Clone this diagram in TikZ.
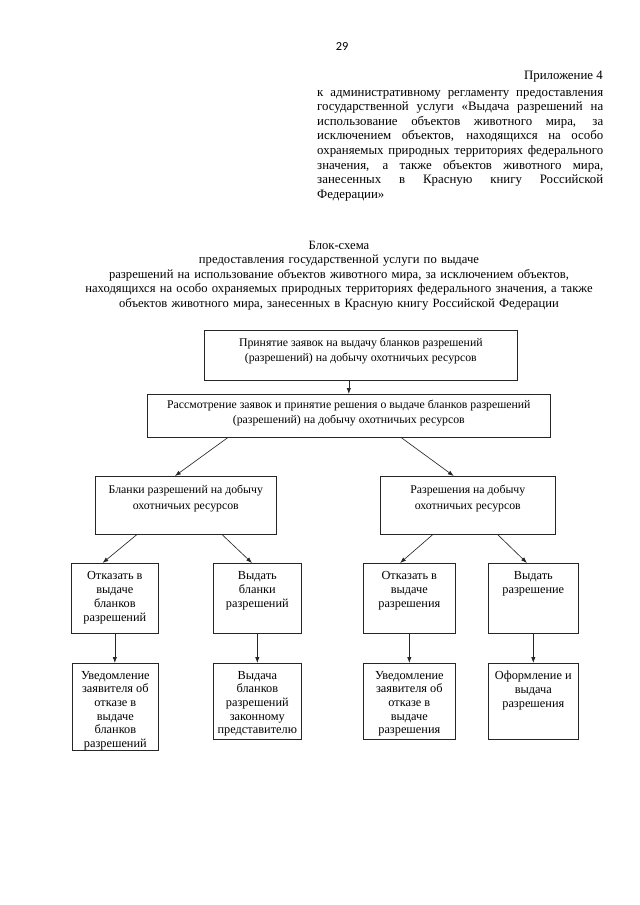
\documentclass[tikz,border=0pt]{standalone}
\usepackage{fontspec}
\setmainfont{Liberation Serif}
\newfontfamily\pagenumfont{Carlito}
\usepackage{tikz}
\usetikzlibrary{calc}
\usetikzlibrary{arrows.meta}

\newlength{\px}
\setlength{\px}{0.328125mm}
% text of a block: width, height, font size, line spacing (px), contents
\newcommand{\boxtxt}[5]{\parbox[t][#2\px][t]{#1\px}{\centering\fontsize{#3}{#4\px}\selectfont\vspace*{8\px}#5}}
% one justified line of the header
\newcommand{\jline}[1]{\makebox[286\px][s]{\spaceskip=0.25em plus 1fill\relax #1}\\}

\tikzset{
  blk/.style={draw=black!85, line width=0.6pt, inner sep=0pt, anchor=north west},
  arr/.style={-{Latex[length=5.5pt,width=4pt]}, line width=0.6pt, draw=black!85}
}

\begin{document}
\begin{tikzpicture}[x=\px, y=-\px]
        \useasboundingbox (0,0) rectangle (640,905);

        \node[font=\pagenumfont\fontsize{11.5}{13}\selectfont] (pnum) at (342,46) {29};
        \node[anchor=base east, inner sep=0pt, font=\fontsize{12}{13.8}\selectfont] (pril) at (603,79) {Приложение 4};
        \node[anchor=base west, inner sep=0pt, text width=286\px, align=left,
              font=\fontsize{12}{14.6\px}\selectfont] (reglam) at (317,96) {%
          \jline{к административному регламенту предоставления}
          \jline{государственной услуги «Выдача разрешений на}
          \jline{использование объектов животного мира, за}
          \jline{исключением объектов, находящихся на особо}
          \jline{охраняемых природных территориях федерального}
          \jline{значения, а также объектов животного мира,}
          \jline{занесенных в Красную книгу Российской}
          Федерации»};

        \node[anchor=base, inner sep=0pt, text width=540\px, align=center,
              font=\fontsize{11.8}{14.6\px}\selectfont] (title) at (339,249) {%
          Блок-схема\\
          предоставления государственной услуги по выдаче\\
          разрешений на использование объектов животного мира, за исключением объектов,\\
          находящихся на особо охраняемых природных территориях федерального значения, а также\\
          объектов животного мира, занесенных в Красную книгу Российской Федерации};

        % blocks
        \node[blk] (zayav) at (204,330) {\boxtxt{313}{50}{11}{15}{Принятие заявок на выдачу бланков разрешений\\(разрешений) на добычу охотничьих ресурсов}};
        \node[blk] (rass) at (147,394) {\boxtxt{403}{43}{11}{15}{\vspace*{-2\px}Рассмотрение заявок и принятие решения о выдаче бланков разрешений\\(разрешений) на добычу охотничьих ресурсов}};
        \node[blk] (blank) at (95,476) {\boxtxt{181}{58}{11}{15.5}{\vspace*{1\px}Бланки разрешений на добычу\\охотничьих ресурсов}};
        \node[blk] (razr) at (380,476) {\boxtxt{175}{58}{11}{15.5}{\vspace*{1\px}Разрешения на добычу\\охотничьих ресурсов}};

        \node[blk] (otkblank) at (71,563) {\boxtxt{87}{70}{11.5}{14}{Отказать в\\выдаче\\бланков\\разрешений}};
        \node[blk] (vydblank) at (213,563) {\boxtxt{88}{70}{11.5}{14}{Выдать\\бланки\\разрешений}};
        \node[blk] (otkrazr) at (363,563) {\boxtxt{92}{70}{11.5}{14}{Отказать в\\выдаче\\разрешения}};
        \node[blk] (vydrazr) at (488,563) {\boxtxt{90}{70}{11.5}{14}{Выдать\\разрешение}};

        \node[blk] (uvblank) at (72,663) {\boxtxt{86}{87}{11.5}{13.6}{Уведомление\\заявителя об\\отказе в\\выдаче\\бланков\\разрешений}};
        \node[blk] (predst) at (213,663) {\boxtxt{88}{76}{11.5}{13.6}{Выдача\\бланков\\разрешений\\законному\\представителю}};
        \node[blk] (uvrazr) at (363,663) {\boxtxt{92}{76}{11.5}{13.6}{Уведомление\\заявителя об\\отказе в\\выдаче\\разрешения}};
        \node[blk] (oform) at (488,663) {\boxtxt{90}{76}{11.5}{13.6}{Оформление и\\выдача\\разрешения}};

        % connectors
        \draw[arr] (zayav.south -| rass.north) -- (rass.north);
        \draw[arr] ($(rass.south west)!.2!(rass.south east)$) -- ($(blank.north west)!.44!(blank.north east)$);
        \draw[arr] ($(rass.south west)!.63!(rass.south east)$) -- ($(razr.north west)!.42!(razr.north east)$);

        \draw[arr] ($(blank.south west)!.23!(blank.south east)$) -- ($(otkblank.north west)!.36!(otkblank.north east)$);
        \draw[arr] ($(blank.south west)!.70!(blank.south east)$) -- ($(vydblank.north west)!.44!(vydblank.north east)$);
        \draw[arr] ($(razr.south west)!.30!(razr.south east)$) -- ($(otkrazr.north west)!.40!(otkrazr.north east)$);
        \draw[arr] ($(razr.south west)!.67!(razr.south east)$) -- ($(vydrazr.north west)!.43!(vydrazr.north east)$);

        \draw[arr] (otkblank.south) -- (otkblank.south |- uvblank.north);
        \draw[arr] (vydblank.south) -- (vydblank.south |- predst.north);
        \draw[arr] (otkrazr.south) -- (otkrazr.south |- uvrazr.north);
        \draw[arr] (vydrazr.south) -- (vydrazr.south |- oform.north);
\end{tikzpicture}
\end{document}
